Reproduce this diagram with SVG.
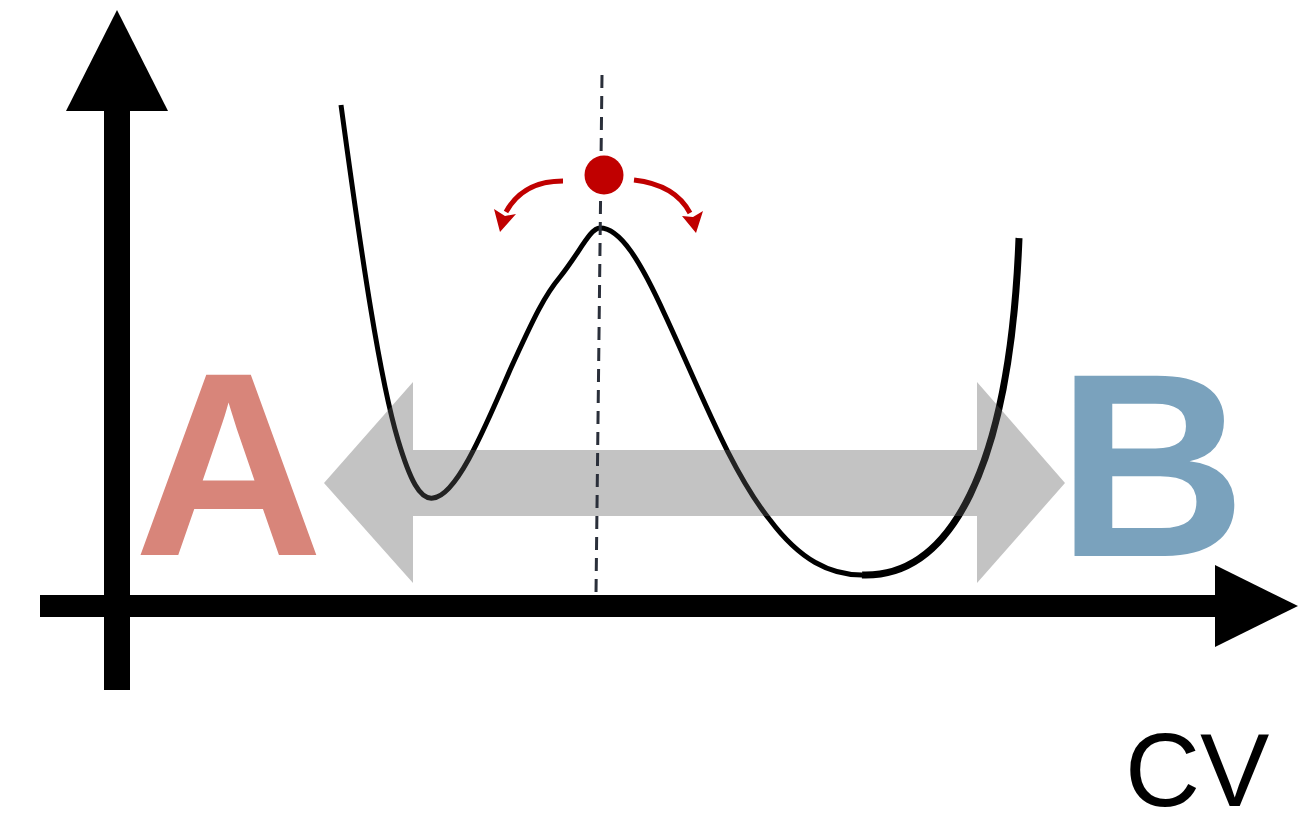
<svg xmlns="http://www.w3.org/2000/svg" width="1302" height="814" viewBox="0 0 1302 814">
<defs>
<style>
.axis{fill:#000}
.lbl{font-family:"Liberation Sans",Arial,sans-serif;font-weight:bold;font-size:262px}
.curve{fill:none;stroke:#000;stroke-linecap:butt;stroke-linejoin:round}
.red{fill:none;stroke:#c00000;stroke-width:5}
.redhead{fill:#c00000}
</style>
</defs>
<rect width="1302" height="814" fill="#fff"/>
<g id="y-axis">
<rect class="axis" x="104" y="108" width="26" height="582"/>
<polygon class="axis" points="117,10 168,111 66,111"/>
</g>
<g id="x-axis">
<rect class="axis" x="40" y="595" width="1178" height="22"/>
<polygon class="axis" points="1215,565 1298,606 1215,647"/>
</g>
<g id="curve">
<path class="curve" stroke-width="5" d="M341,105 C362,260 380,380 398,440 C410,480 420,500 433,498 C455,496 480,440 510,370 C535,315 545,295 560,277 C580,252 590,228 600,228 C620,228 640,260 665,315 C700,390 730,470 770,520 C800,560 830,575 862,575"/>
<path class="curve" stroke-width="7" d="M862,575 C950,578 1010,470 1019,238"/>
</g>
<g id="double-arrow">
<polygon fill="#5c5c5c" fill-opacity="0.37" points="324,483 413,382 413,450 977,450 977,382 1065,483 977,583 977,516 413,516 413,583"/>
</g>
<g id="dashed-line">
<line x1="602" y1="75" x2="596" y2="594" stroke="#2a2f3a" stroke-width="3" stroke-dasharray="13,8"/>
</g>
<g id="red-dot">
<circle cx="604" cy="175" r="19.5" fill="#c00000"/>
</g>
<g id="connectors">
<path class="red" d="M563,181 C538,181 518,190 506,212"/>
<path class="redhead" d="M500,232 L494,209 L505,216 L516,214 Z"/>
<path class="red" d="M634,180 C660,183 680,194 690,213"/>
<path class="redhead" d="M696,233 L682,216 L693,217 L703,211 Z"/>
</g>
<g id="label-A">
<text class="lbl" x="134" y="555" fill="#d8857a">A</text>
</g>
<g id="label-B">
<text class="lbl" x="1057" y="556" fill="#7aa2bd">B</text>
</g>
<g id="label-CV">
<text x="1125" y="806" font-family="Liberation Sans,Arial,sans-serif" font-size="104" fill="#000">CV</text>
</g>
</svg>
